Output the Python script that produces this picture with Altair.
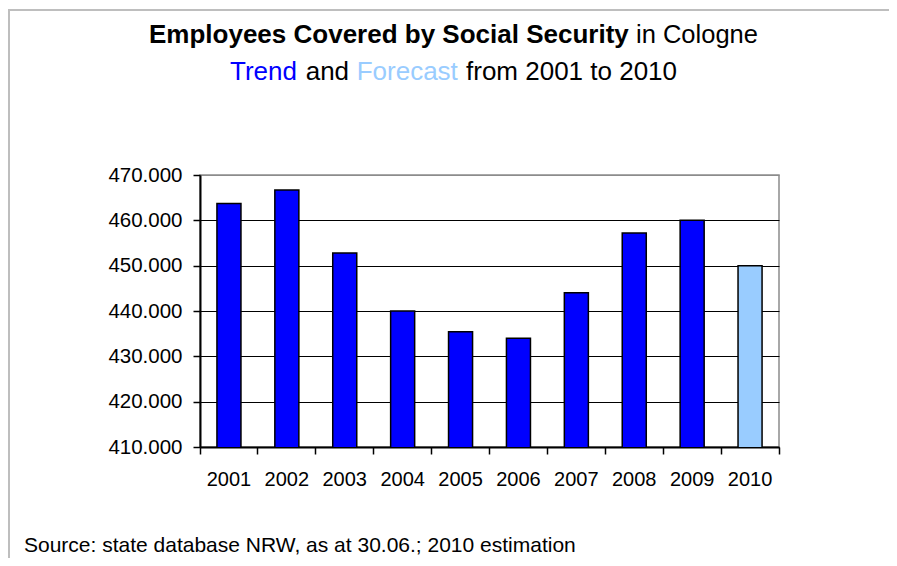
import altair as alt
import pandas as pd

# ---- data ----
years = ["2001", "2002", "2003", "2004", "2005", "2006", "2007", "2008", "2009", "2010"]
employees = [463700, 466700, 452800, 440000, 435400, 434000, 444000, 457200, 460000, 450000]
kinds = ["Trend"] * 9 + ["Forecast"]
y_ticks = [410000, 420000, 430000, 440000, 450000, 460000, 470000]

title_bold = "Employees Covered by Social Security"
title_rest = "in Cologne"
subtitle_parts = ["Trend", "and", "Forecast", "from 2001 to 2010"]
source_note = "Source: state database NRW, as at 30.06.; 2010 estimation"

df = pd.DataFrame({"year": years, "employees": employees, "kind": kinds})

# ---- layout ----
W, H = 579, 272
PAD_L, PAD_T, PAD_R, PAD_B = 192, 167, 110, 111
FONT = "Liberation Sans"
BLUE, LIGHT = "#0000FF", "#99CCFF"
one = alt.Data(values=[{}])

bars = alt.Chart(df).mark_bar(
    width={"band": 0.415}, stroke="black", strokeWidth=1.5, clip=True
).encode(
    x=alt.X(
        "year:N",
        sort=years,
        scale=alt.Scale(paddingInner=0, paddingOuter=0),
        axis=alt.Axis(
            title=None, labelAngle=0, labelFontSize=20, labelFont=FONT,
            labelColor="black", labelPadding=15, tickSize=7, tickWidth=1.5,
            tickColor="black", domainColor="black", domainWidth=2,
            bandPosition=1, tickExtra=True, grid=False,
        ),
    ),
    y=alt.Y(
        "employees:Q",
        scale=alt.Scale(domain=[y_ticks[0], y_ticks[-1]], nice=False, zero=False),
        axis=alt.Axis(
            title=None, values=y_ticks,
            labelExpr="replace(format(datum.value, ',.0f'), ',', '.')",
            labelFontSize=20.5, labelFont=FONT, labelColor="black",
            labelPadding=11, tickSize=7, tickWidth=1.5, tickColor="black",
            domainColor="black", domainWidth=2,
            grid=True, gridWidth=1.2,
            gridColor={"condition": {"test": "datum.value >= 470000", "value": "#8c8c8c"},
                       "value": "black"},
        ),
    ),
    color=alt.Color(
        "kind:N",
        scale=alt.Scale(domain=["Trend", "Forecast"], range=[BLUE, LIGHT]),
        legend=None,
    ),
)


def label(text, x, y, size, color="black", weight="normal", align="left"):
    return alt.Chart(one).mark_text(
        text=text, font=FONT, fontSize=size, fontWeight=weight, color=color,
        align=align, baseline="alphabetic",
    ).encode(x=alt.value(x), y=alt.value(y))


layers = [bars]
# title line 1
layers.append(label(title_bold, -51, -132, 26, weight="bold"))
layers.append(label(title_rest, 436, -132, 25.5))
# title line 2
sub_x = [30, 105.7, 156.7, 266]
sub_col = [BLUE, "black", LIGHT, "black"]
for t, xx, cc in zip(subtitle_parts, sub_x, sub_col):
    layers.append(label(t, xx, -95, 26, color=cc))
# source note
layers.append(label(source_note, -176, 377, 21))

# outer gray frame
frame_top = alt.Chart(one).mark_rule(color="#bebebe", strokeWidth=2).encode(
    x=alt.value(-192), x2=alt.value(W + PAD_R), y=alt.value(-165)
)
frame_left = alt.Chart(one).mark_rule(color="#bebebe", strokeWidth=2).encode(
    x=alt.value(-191), y=alt.value(-166), y2=alt.value(H + PAD_B)
)
layers += [frame_top, frame_left]

chart = alt.layer(*layers).properties(
    width=W, height=H,
    autosize=alt.AutoSizeParams(type="none"),
    padding={"left": PAD_L, "top": PAD_T, "right": PAD_R, "bottom": PAD_B},
    background="white",
).configure_view(stroke="#8c8c8c", strokeWidth=1.5)

chart.save("out.html", embed_options={"renderer": "svg", "actions": False})
